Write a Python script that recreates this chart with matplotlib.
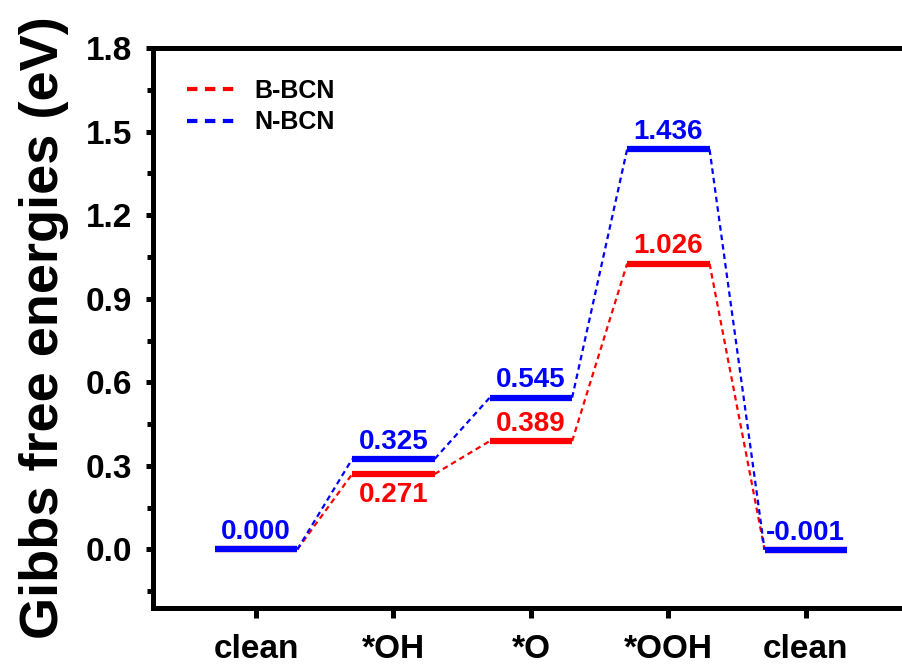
import matplotlib
matplotlib.use("Agg")
import matplotlib.pyplot as plt
from matplotlib.ticker import MultipleLocator

plt.rcParams['font.family'] = ['Liberation Sans', 'DejaVu Sans']
plt.rcParams['font.weight'] = 'bold'

steps = ['clean', '*OH', '*O', '*OOH', 'clean']
b_bcn = [0.000, 0.271, 0.389, 1.026, -0.001]
n_bcn = [0.000, 0.325, 0.545, 1.436, -0.001]
b_labels = [None, '0.271', '0.389', '1.026', None]
n_labels = ['0.000', '0.325', '0.545', '1.436', '-0.001']
b_below = [False, True, False, False, False]

red = '#ff0000'
blue = '#0000ff'
half = 0.3

fig = plt.figure(figsize=(9.02, 6.67), dpi=100)
ax = fig.add_axes([0.1696, 0.0885, 0.838, 0.8395])

xs = list(range(1, len(steps) + 1))


def draw_series(vals, color, name, z):
    # levels
    for x, v in zip(xs, vals):
        ax.plot([x - half, x + half], [v, v], color=color, lw=4.5,
                solid_capstyle='butt', zorder=z + 1)
    # connectors
    for i in range(len(vals) - 1):
        ax.plot([xs[i] + half, xs[i + 1] - half], [vals[i], vals[i + 1]],
                color=color, lw=1.6, ls=(0, (2.5, 1.8)), zorder=z,
                label=name if i == 0 else None)


draw_series(b_bcn, red, 'B-BCN', 2)
draw_series(n_bcn, blue, 'N-BCN', 4)

for x, v, t, below in zip(xs, b_bcn, b_labels, b_below):
    if t is None:
        continue
    if below:
        ax.annotate(t, (x, v), xytext=(0, -6), textcoords='offset points',
                    ha='center', va='top', color=red, fontsize=20, fontweight='bold')
    else:
        ax.annotate(t, (x, v), xytext=(0, 3), textcoords='offset points',
                    ha='center', va='bottom', color=red, fontsize=20, fontweight='bold')

for x, v, t in zip(xs, n_bcn, n_labels):
    ax.annotate(t, (x, v), xytext=(0, 3), textcoords='offset points',
                ha='center', va='bottom', color=blue, fontsize=20, fontweight='bold')

ax.set_xlim(0.25, 5.75)
ax.set_ylim(-0.21, 1.8)
ax.set_xticks(xs)
ax.set_xticklabels(steps)
ax.yaxis.set_major_locator(MultipleLocator(0.3))
ax.yaxis.set_minor_locator(MultipleLocator(0.15))
ax.yaxis.set_major_formatter(plt.FuncFormatter(lambda v, p: f'{v:.1f}'))

for s in ax.spines.values():
    s.set_linewidth(3.6)

ax.tick_params(axis='both', which='major', labelsize=24, width=3.6, direction='out')
ax.tick_params(axis='x', which='major', length=7, pad=12)
ax.tick_params(axis='y', which='major', length=5, pad=10)
ax.tick_params(axis='y', which='minor', length=4, width=3.6, direction='out')
for lab in ax.get_xticklabels() + ax.get_yticklabels():
    lab.set_fontweight('bold')

ax.set_ylabel('Gibbs free energies (eV)', fontsize=39, fontweight='bold', labelpad=12)

leg = ax.legend(loc='upper left', bbox_to_anchor=(0.015, 0.985), frameon=False,
                prop={'size': 18, 'weight': 'bold'}, handlelength=2.1,
                handletextpad=0.6, labelspacing=0.3)
for line in leg.get_lines():
    line.set_linewidth(3)

fig.savefig('out.png', dpi=100)
